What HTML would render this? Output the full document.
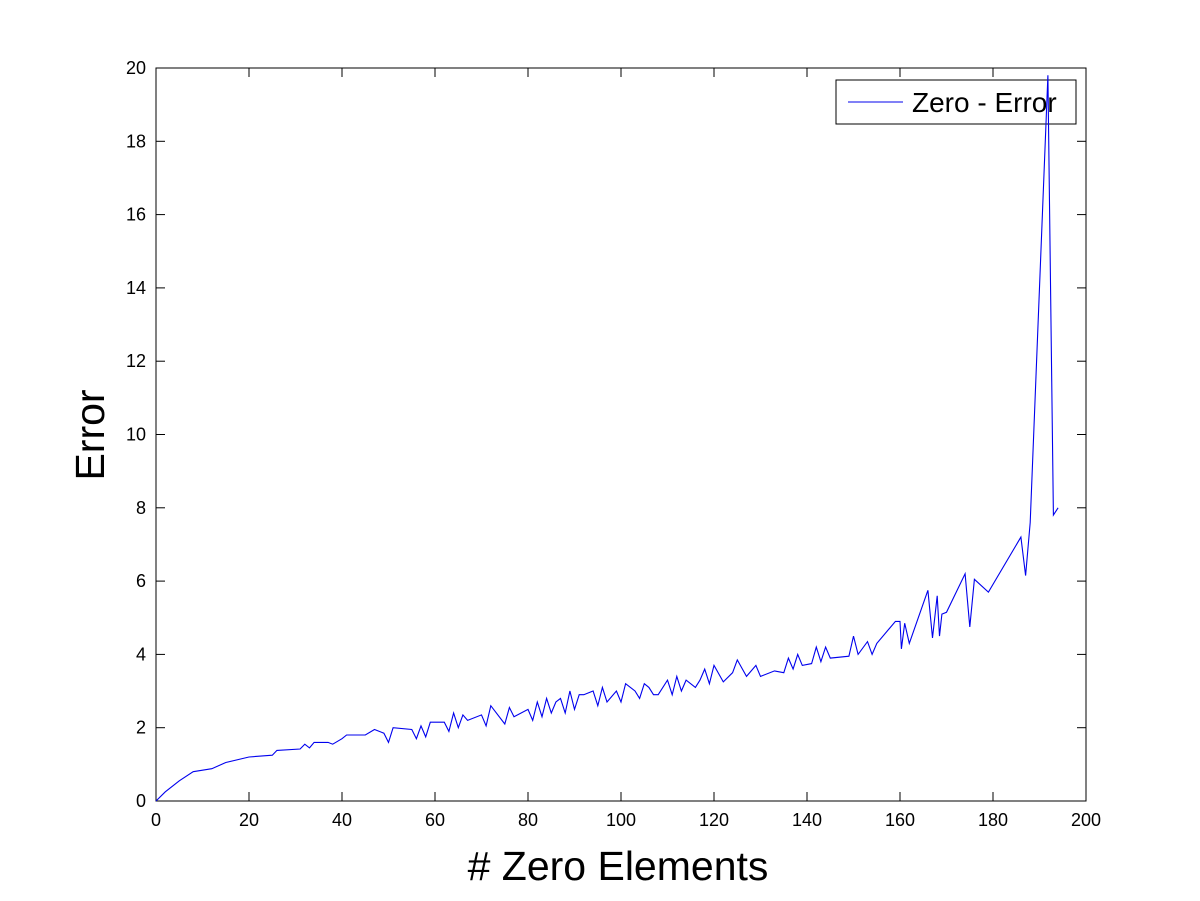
<!DOCTYPE html>
<html><head><meta charset="utf-8"><style>
body{margin:0;background:#fff;}
svg{display:block;font-family:"Liberation Sans",sans-serif;}
</style></head><body>
<svg id="chart" width="1200" height="901" viewBox="0 0 1200 901">
<rect x="0" y="0" width="1200" height="901" fill="#fff"/>
<g id="axes"></g>
<g id="legend">
 <rect x="836" y="80" width="240" height="44" fill="#fff" stroke="#000" stroke-width="1"/>
 <line x1="848" y1="102" x2="903" y2="102" stroke="#0000ee" stroke-width="1"/>
 <text x="912" y="112" font-size="28">Zero - Error</text>
</g>
<g id="series"></g>
<text x="618" y="880" font-size="41" text-anchor="middle"># Zero Elements</text>
<text x="0" y="0" font-size="41" text-anchor="middle" transform="translate(104,435) rotate(-90)">Error</text>
</svg>
<script>
const xTicks = [0,20,40,60,80,100,120,140,160,180,200];
const yTicks = [0,2,4,6,8,10,12,14,16,18,20];
const xValues = [0,2,5,8,12,15,20,25,26,31,32,33,34,37,38,40,41,45,47,49,50,51,55,56,57,58,59,62,63,64,65,66,67,70,71,72,75,76,77,80,81,82,83,84,85,86,87,88,89,90,91,92,94,95,96,97,99,100,101,103,104,105,106,107,108,110,111,112,113,114,116,117,118,119,120,122,124,125,127,129,130,133,135,136,137,138,139,141,142,143,144,145,149,150,151,153,154,155,159,160,160.3,161,162,166,167,168,168.5,169,170,174,175,176,179,186,187,188,191.8,193,194];
const errValues = [0,0.25,0.55,0.8,0.88,1.05,1.2,1.25,1.38,1.42,1.55,1.45,1.6,1.6,1.55,1.7,1.8,1.8,1.95,1.85,1.6,2.0,1.95,1.7,2.05,1.75,2.15,2.15,1.9,2.4,2.0,2.35,2.2,2.35,2.05,2.6,2.1,2.55,2.3,2.5,2.2,2.7,2.3,2.8,2.4,2.7,2.8,2.4,3.0,2.5,2.9,2.9,3.0,2.6,3.1,2.7,3.0,2.7,3.2,3.0,2.8,3.2,3.1,2.9,2.9,3.3,2.9,3.4,3.0,3.3,3.1,3.3,3.6,3.2,3.7,3.25,3.5,3.85,3.4,3.7,3.4,3.55,3.5,3.9,3.6,4.0,3.7,3.75,4.2,3.8,4.2,3.9,3.95,4.5,4.0,4.35,4.0,4.3,4.9,4.9,4.15,4.85,4.3,5.75,4.45,5.6,4.5,5.1,5.15,6.2,4.75,6.05,5.7,7.2,6.15,7.6,19.8,7.8,8.0];
const X0=156,X1=1086,Y0=801,Y1=68;
const sx=v=>X0+(v-0)/(200-0)*(X1-X0);
const sy=v=>Y0-(v-0)/(20-0)*(Y0-Y1);
const NS="http://www.w3.org/2000/svg";
const axes=document.getElementById('axes');
function mk(tag,attrs,parent){const e=document.createElementNS(NS,tag);for(const k in attrs)e.setAttribute(k,attrs[k]);parent.appendChild(e);return e;}
const box=mk('rect',{x:X0,y:Y1,width:X1-X0,height:Y0-Y1,fill:'none',stroke:'#000','stroke-width':1},axes);


xTicks.forEach(t=>{
 const x=sx(t);
 const a=mk('line',{x1:x,y1:Y0,x2:x,y2:Y0-9,stroke:'#000'},axes);
 
 
 const b=mk('line',{x1:x,y1:Y1,x2:x,y2:Y1+9,stroke:'#000'},axes);
 
 
 const l=mk('text',{x:x,y:Y0+25,'font-size':18,'text-anchor':'middle'},axes);
 l.textContent=t;
 
 
});
yTicks.forEach(t=>{
 const y=sy(t);
 const a=mk('line',{x1:X0,y1:y,x2:X0+9,y2:y,stroke:'#000'},axes);
 
 
 const b=mk('line',{x1:X1,y1:y,x2:X1-9,y2:y,stroke:'#000'},axes);
 
 
 const l=mk('text',{x:X0-10,y:y+6,'font-size':18,'text-anchor':'end'},axes);
 l.textContent=t;
 
 
});
const pts=xValues.map((v,i)=>sx(v).toFixed(1)+','+sy(errValues[i]).toFixed(1)).join(' ');
const pl=mk('polyline',{points:pts,fill:'none',stroke:'#0000ee','stroke-width':1.1},document.getElementById('series'));


</script>
</body></html>
